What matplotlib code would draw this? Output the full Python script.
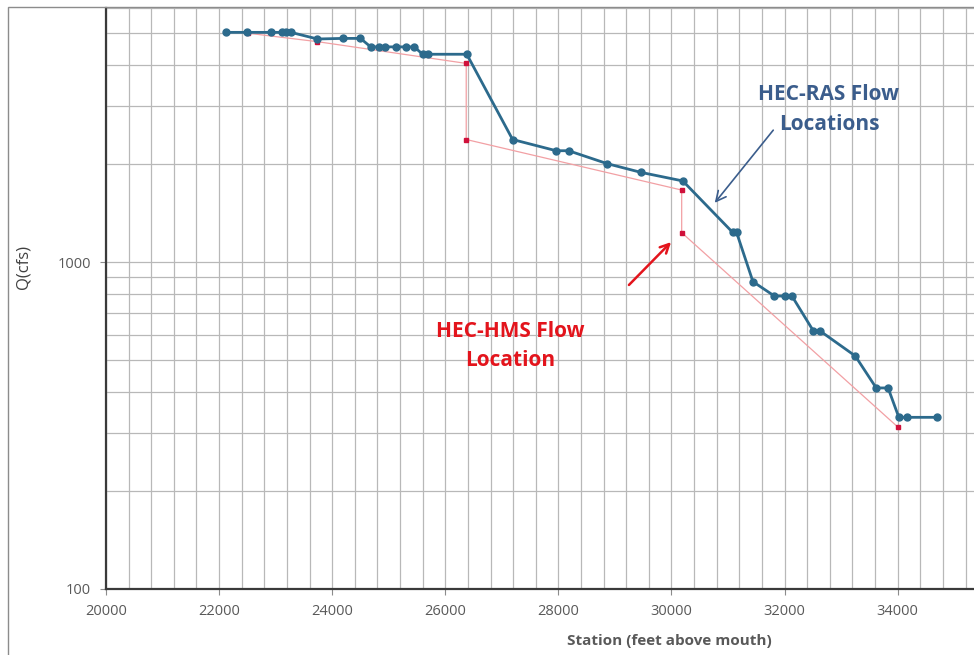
import matplotlib
matplotlib.use('Agg')
import matplotlib.pyplot as plt
from matplotlib.ticker import FixedLocator, MultipleLocator, LogLocator, NullFormatter, FormatStrFormatter
from matplotlib.patches import Rectangle

matplotlib.rcParams['font.family'] = ['Open Sans', 'DejaVu Sans']

# HEC-RAS flow change locations (station, Q)
ras_station = [22120, 22500, 22920, 23110, 23180, 23270, 23740, 24190, 24500,
               24680, 24820, 24930, 25130, 25300, 25450, 25600, 25690, 26380,
               27190, 27960, 28180, 28860, 29460, 30200, 31080, 31150, 31440,
               31820, 32000, 32130, 32510, 32630, 33250, 33620, 33830, 34020,
               34160, 34700]
ras_q = [5040, 5040, 5040, 5040, 5040, 5040, 4810, 4830, 4830,
         4550, 4550, 4550, 4550, 4550, 4550, 4320, 4320, 4320,
         2370, 2190, 2190, 2000, 1880, 1770, 1233, 1233, 871,
         787, 787, 787, 615, 615, 516, 412, 412, 335,
         335, 335]

# HEC-HMS flow locations
hms_station = [22510, 23740, 26370, 26370, 30180, 30180, 34010]
hms_q = [5010, 4720, 4050, 2370, 1660, 1230, 312]

# Axis ticks
x_ticks = [20000, 22000, 24000, 26000, 28000, 30000, 32000, 34000]
y_ticks = [100, 1000]

fig = plt.figure(figsize=(9.74, 6.55), dpi=100)
ax = fig.add_axes([106/974, 66/655, 904.8/974, 581.4/655])

ax.set_yscale('log')
ax.set_xlim(20000, 36000)
ax.set_ylim(100, 6000)

# Grid (every 400 ft, log minor lines)
ax.xaxis.set_major_locator(FixedLocator(x_ticks))
ax.xaxis.set_minor_locator(MultipleLocator(400))
ax.yaxis.set_major_locator(FixedLocator(y_ticks))
ax.yaxis.set_major_formatter(FormatStrFormatter('%d'))
ax.yaxis.set_minor_locator(LogLocator(base=10, subs=range(2, 10)))
ax.yaxis.set_minor_formatter(NullFormatter())
ax.grid(which='both', color='#b8b8b8', linewidth=0.9)
ax.set_axisbelow(True)

ax.tick_params(axis='both', which='major', direction='out', length=4, color='#8c8c8c',
               labelsize=10.5, labelcolor='#595959', pad=7)
ax.tick_params(axis='both', which='minor', length=0)

for s in ['top', 'right']:
    ax.spines[s].set_visible(False)
for s in ['left', 'bottom']:
    ax.spines[s].set_color('#3a3a3a')
    ax.spines[s].set_linewidth(1.6)

# Series
ax.plot(hms_station, hms_q, '-', color='#f2a0a4', linewidth=0.9, marker='s',
        markersize=2.5, markerfacecolor='#d0103a', markeredgecolor='#d0103a', zorder=3)
ax.plot(ras_station, ras_q, '-', color='#2c6a8c', linewidth=2.0, marker='o',
        markersize=5, markerfacecolor='#2c6a8c', markeredgecolor='#2c6a8c', zorder=4)

# Labels
ax.set_ylabel('Q(cfs)', fontsize=12, color='#404040')
ax.yaxis.set_label_coords(-0.082, 0.553)
ax.set_xlabel('Station (feet above mouth)', fontsize=11, fontweight='bold', color='#595959')
ax.xaxis.set_label_coords(0.623, -0.077)

# Annotations
ax.text(32785, 2928, 'HEC-RAS Flow\nLocations', ha='center', va='center', fontsize=15,
        fontweight='bold', color='#3b5d8c', linespacing=1.6, zorder=5)
ax.annotate('', xy=(30734, 1494), xytext=(31830, 2570),
            arrowprops=dict(arrowstyle='->', color='#3b5d8c', lw=1.2, mutation_scale=18),
            zorder=5)
ax.text(27144, 555, 'HEC-HMS Flow\nLocation', ha='center', va='center', fontsize=15,
        fontweight='bold', color='#e3141c', linespacing=1.5, zorder=5)
ax.annotate('', xy=(30027, 1167), xytext=(29213, 839),
            arrowprops=dict(arrowstyle='->', color='#e3141c', lw=1.8, mutation_scale=16),
            zorder=5)

# Outer chart border (left and top visible)
fig.add_artist(Rectangle((8/974, -0.1), 1.2, 1.1 - 7/655, transform=fig.transFigure,
                         fill=False, edgecolor='#8c8c8c', linewidth=1.0))

fig.savefig('out.png', dpi=100)
